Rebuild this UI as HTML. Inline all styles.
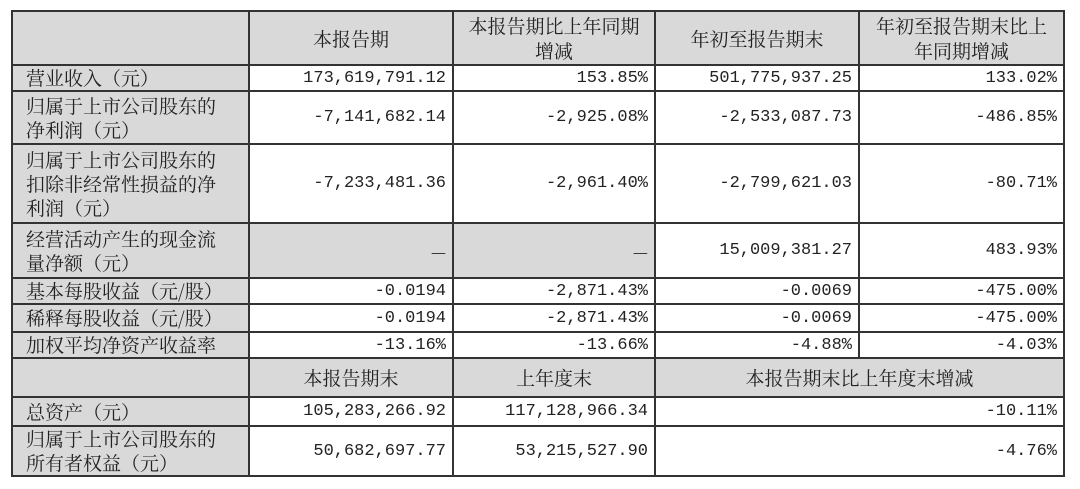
<!DOCTYPE html>
<html><head><meta charset="utf-8"><style>
body{margin:0;background:#fff;width:1080px;height:489px;overflow:hidden}
table{position:absolute;left:11px;top:10px;border-collapse:collapse;table-layout:fixed;width:1052px;
font-family:"Liberation Mono","Noto Serif CJK SC",monospace;color:#222}
td{border:2px solid #333;padding:0 6px;font-size:17px;text-align:right;white-space:nowrap;overflow:hidden}
td.l{text-align:left;background:#d9d9d9;font-family:"Noto Serif CJK SC","Noto Sans CJK SC",serif;font-size:19px;line-height:24px;padding-left:13px;white-space:normal}
td.h{text-align:center;background:#d9d9d9;font-family:"Noto Serif CJK SC","Noto Sans CJK SC",serif;font-size:19px;line-height:25px;white-space:normal}
td.g{background:#d9d9d9;font-family:"Noto Serif CJK SC","Noto Sans CJK SC",serif}
</style></head><body>
<table>
<colgroup><col style="width:237px"><col style="width:204px"><col style="width:202px"><col style="width:204px"><col style="width:205px"></colgroup>
<tr style="height:54px"><td class="h"></td><td class="h">本报告期</td><td class="h">本报告期比上年同期<br>增减</td><td class="h">年初至报告期末</td><td class="h">年初至报告期末比上<br>年同期增减</td></tr>
<tr style="height:25px"><td class="l">营业收入（元）</td><td>173,619,791.12</td><td>153.85%</td><td>501,775,937.25</td><td>133.02%</td></tr>
<tr style="height:53px"><td class="l">归属于上市公司股东的<br>净利润（元）</td><td>-7,141,682.14</td><td>-2,925.08%</td><td>-2,533,087.73</td><td>-486.85%</td></tr>
<tr style="height:79px"><td class="l">归属于上市公司股东的<br>扣除非经常性损益的净<br>利润（元）</td><td>-7,233,481.36</td><td>-2,961.40%</td><td>-2,799,621.03</td><td>-80.71%</td></tr>
<tr style="height:55px"><td class="l">经营活动产生的现金流<br>量净额（元）</td><td class="g">—</td><td class="g">—</td><td>15,009,381.27</td><td>483.93%</td></tr>
<tr style="height:25px"><td class="l">基本每股收益（元/股）</td><td>-0.0194</td><td>-2,871.43%</td><td>-0.0069</td><td>-475.00%</td></tr>
<tr style="height:28px"><td class="l">稀释每股收益（元/股）</td><td>-0.0194</td><td>-2,871.43%</td><td>-0.0069</td><td>-475.00%</td></tr>
<tr style="height:26px"><td class="l">加权平均净资产收益率</td><td>-13.16%</td><td>-13.66%</td><td>-4.88%</td><td>-4.03%</td></tr>
<tr style="height:39px"><td class="h"></td><td class="h">本报告期末</td><td class="h">上年度末</td><td class="h" colspan="2">本报告期末比上年度末增减</td></tr>
<tr style="height:29px"><td class="l">总资产（元）</td><td>105,283,266.92</td><td>117,128,966.34</td><td colspan="2">-10.11%</td></tr>
<tr style="height:45px"><td class="l">归属于上市公司股东的<br>所有者权益（元）</td><td>50,682,697.77</td><td>53,215,527.90</td><td colspan="2">-4.76%</td></tr>
</table>
</body></html>
